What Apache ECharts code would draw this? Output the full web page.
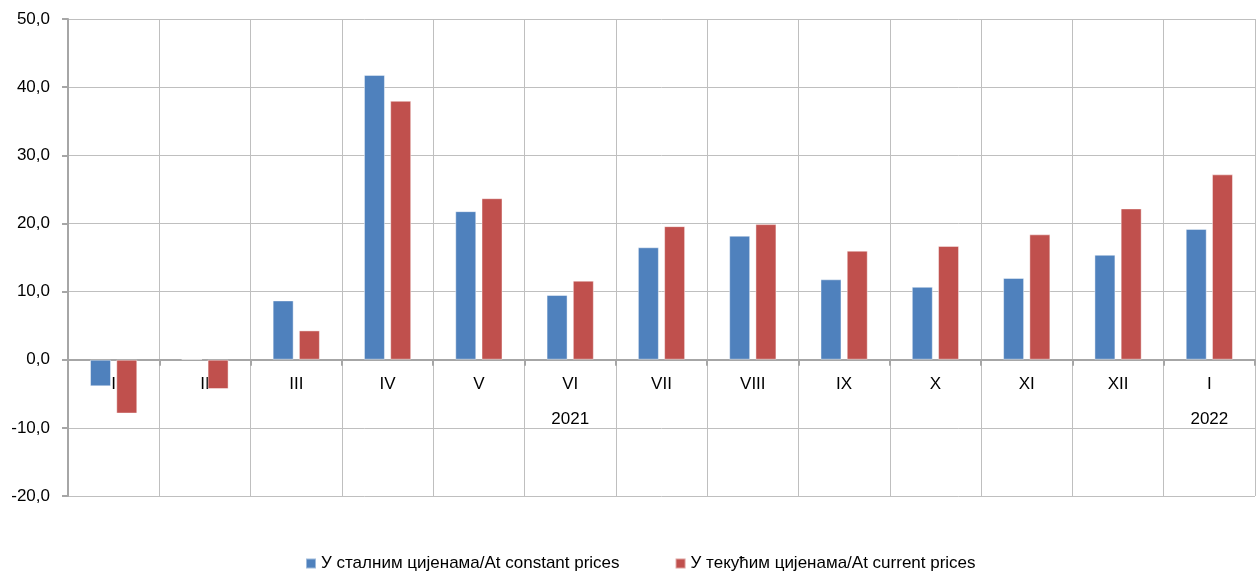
<!DOCTYPE html>
<html>
<head>
<meta charset="utf-8">
<script src="https://cdn.jsdelivr.net/npm/echarts@6/dist/echarts.min.js"></script>
<style>
html,body{margin:0;padding:0;background:#fff;}
#chart{width:1256px;height:573px;}
</style>
</head>
<body>
<div id="chart"></div>
<script>
const months = ['I','II','III','IV','V','VI','VII','VIII','IX','X','XI','XII','I'];
const yearLabels = ['','','','','','2021','','','','','','','2022'];
const seriesNames = ['У сталним цијенама/At constant prices','У текућим цијенама/At current prices'];
const constantPrices = [-3.9, 0.1, 8.7, 41.8, 21.8, 9.5, 16.5, 18.2, 11.8, 10.7, 12.0, 15.4, 19.2];
const currentPrices = [-7.9, -4.3, 4.3, 38.0, 23.7, 11.6, 19.6, 19.9, 16.0, 16.7, 18.4, 22.2, 27.2];
const yTicks = {min: -20, max: 50, interval: 10};

const W = 1256, H = 573;
const gridTop = 19, gridBottom = 77;
const plotH = H - gridTop - gridBottom;
const zeroOffset = -plotH * (0 - yTicks.min) / (yTicks.max - yTicks.min);

const chart = echarts.init(document.getElementById('chart'));
const font = 'Liberation Sans, Arial, sans-serif';
chart.setOption({
  animation: false,
  textStyle: {fontFamily: font},
  grid: {left: 68, top: gridTop, right: 1, bottom: gridBottom, containLabel: false},
  legend: {
    left: 300, top: 550,
    itemWidth: 10, itemHeight: 10, itemGap: 55,
    icon: 'rect',
    textStyle: {fontSize: 17, color: '#000', fontFamily: font},
    data: seriesNames
  },
  xAxis: {
    type: 'category',
    data: months,
    position: 'bottom',
    offset: zeroOffset,
    axisLine: {show: true, onZero: false, lineStyle: {color: '#a6a6a6', width: 2}},
    axisTick: {show: true, length: 6, lineStyle: {color: '#a6a6a6', width: 2}},
    splitLine: {show: true, lineStyle: {color: '#bfbfbf', width: 1}},
    axisLabel: {
      interval: 0, margin: 7, fontSize: 17, color: '#000', lineHeight: 35,
      verticalAlign: 'top', fontFamily: font,
      formatter: function (v, i) { return yearLabels[i] ? v + '\n' + yearLabels[i] : v; }
    }
  },
  yAxis: {
    type: 'value',
    min: yTicks.min, max: yTicks.max, interval: yTicks.interval,
    axisLine: {show: true, lineStyle: {color: '#a6a6a6', width: 2}},
    axisTick: {show: true, length: 6, lineStyle: {color: '#a6a6a6', width: 2}},
    splitLine: {show: true, lineStyle: {color: '#bfbfbf', width: 1}},
    axisLabel: {
      margin: 18, fontSize: 17, color: '#000', fontFamily: font,
      formatter: function (v) { return v.toFixed(1).replace('.', ','); }
    }
  },
  series: [
    {name: seriesNames[0], type: 'bar', data: constantPrices, barWidth: 21, barGap: '25%',
     itemStyle: {color: '#4f81bd', borderColor: 'rgba(255,255,255,0.45)', borderWidth: 1}},
    {name: seriesNames[1], type: 'bar', data: currentPrices, barWidth: 21, barGap: '25%',
     itemStyle: {color: '#c0504d', borderColor: 'rgba(255,255,255,0.45)', borderWidth: 1}}
  ]
});
</script>
</body>
</html>
